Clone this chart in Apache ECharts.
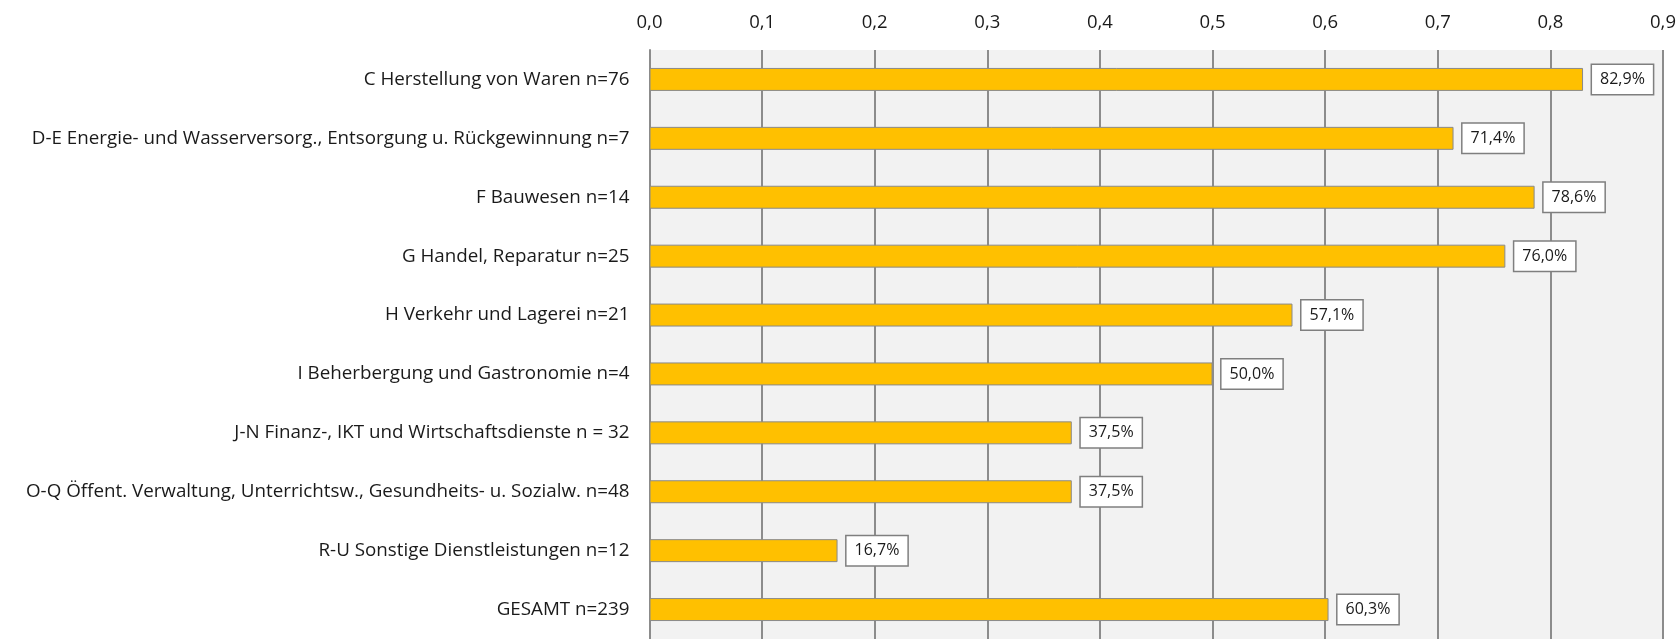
<!DOCTYPE html>
<html>
<head>
<meta charset="utf-8">
<script src="https://cdn.jsdelivr.net/npm/echarts@6/dist/echarts.min.js"></script>
<style>html,body{margin:0;padding:0;background:#fff}#c{width:1679px;height:639px}</style>
</head>
<body>
<div id="c"></div>
<script>
const categories = [
  "C Herstellung von Waren n=76",
  "D-E Energie- und Wasserversorg., Entsorgung u. Rückgewinnung n=7",
  "F Bauwesen n=14",
  "G Handel, Reparatur n=25",
  "H Verkehr und Lagerei n=21",
  "I Beherbergung und Gastronomie n=4",
  "J-N Finanz-, IKT und Wirtschaftsdienste n = 32",
  "O-Q Öffent. Verwaltung, Unterrichtsw., Gesundheits- u. Sozialw. n=48",
  "R-U Sonstige Dienstleistungen n=12",
  "GESAMT n=239"
];
const values = [0.829, 0.714, 0.786, 0.760, 0.571, 0.500, 0.375, 0.375, 0.167, 0.603];
const axisMin = 0, axisMax = 0.9, axisStep = 0.1;

const chart = echarts.init(document.getElementById('c'), null, {renderer: 'canvas'});
const FONT = '"Open Sans", sans-serif';
chart.setOption({
  animation: false,
  backgroundColor: '#ffffff',
  grid: {
    left: 649.5, top: 50, width: 1013.5, height: 597,
    show: true, backgroundColor: '#f2f2f2', borderWidth: 0
  },
  xAxis: {
    type: 'value', position: 'top', min: axisMin, max: axisMax, interval: axisStep,
    axisLine: {show: false}, axisTick: {show: false},
    axisLabel: {
      margin: 18, fontFamily: FONT, fontSize: 18.5, color: '#1a1a1a',
      formatter: v => v.toFixed(1).replace('.', ',')
    },
    splitLine: {show: true, lineStyle: {color: '#8c8c8c', width: 2}}
  },
  yAxis: {
    type: 'category', data: categories, inverse: true,
    axisLine: {show: true, lineStyle: {color: '#8c8c8c', width: 2}},
    axisTick: {show: false},
    axisLabel: {margin: 20, fontFamily: FONT, fontSize: 18.8, color: '#1a1a1a'}
  },
  series: [{
    type: 'bar', data: values, barWidth: '39%',
    itemStyle: {color: '#FFC000', borderColor: '#8a8a8a', borderWidth: 1},
    label: {
      show: true, position: 'right', distance: 9,
      fontFamily: FONT, fontSize: 16, color: '#1a1a1a',
      backgroundColor: '#ffffff', borderColor: '#7f7f7f', borderWidth: 1.5,
      padding: [7, 8, 6, 8],
      formatter: p => (p.value * 100).toFixed(1).replace('.', ',') + '%'
    }
  }]
});
</script>
</body>
</html>
